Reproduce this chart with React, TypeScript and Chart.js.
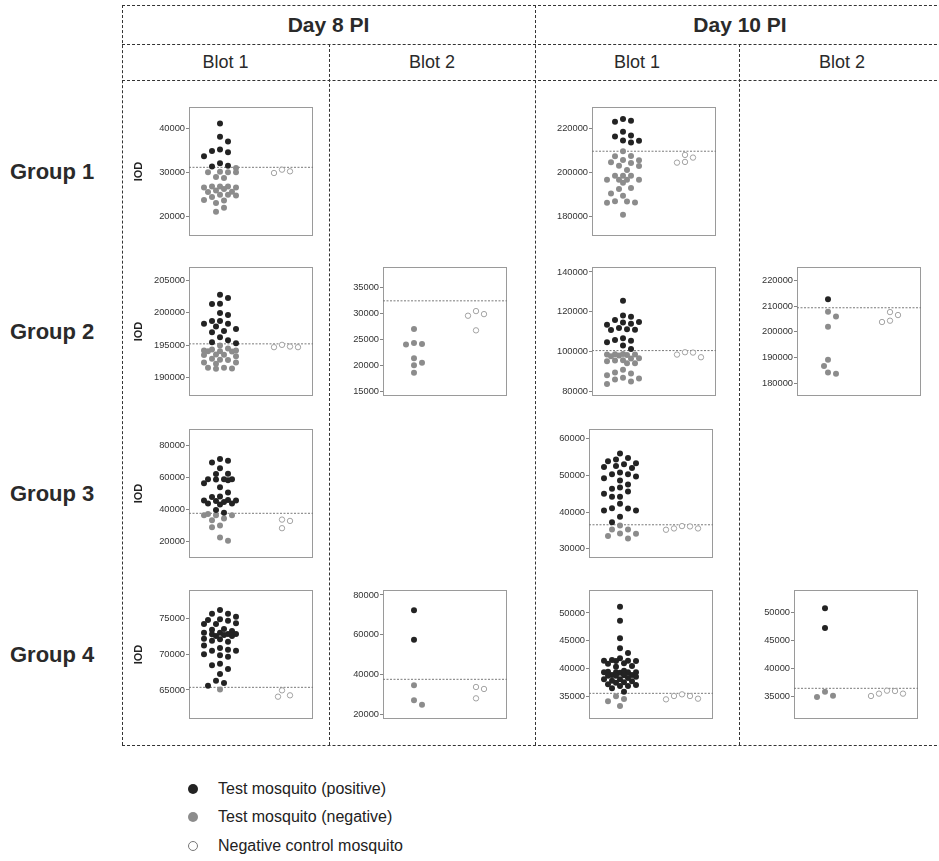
import React, { useEffect, useRef } from 'react';
import { Chart, registerables } from 'chart.js';
Chart.register(...registerables);

const FONT = "'Liberation Sans', Arial, Helvetica, sans-serif";

// ---------- Data (IOD values) ----------
// Group 1, Day 8 PI, Blot 1
const g1d8b1Pos = [41070, 38020, 36960, 34830, 34530, 35130, 33610, 32020, 31260, 31480];
const g1d8b1Neg = [29960, 29960, 30110, 30950, 29960, 28670, 28900, 26770, 26540, 26770, 26160, 26540, 26770, 25860, 25480, 25550, 24870, 24870, 24710, 24330, 23570, 23650, 22970, 21900, 20990];
const g1d8b1Ctrl = [30570, 29810, 30190];
const g1d8b1Cut = 31100;
const g1d8b1Range = [15500, 44800];
const g1d8b1Ticks = [20000, 30000, 40000];

// Group 1, Day 10 PI, Blot 1
const g1d10b1Pos = [223350, 222890, 224110, 216200, 218330, 214220, 213460, 214370, 216650];
const g1d10b1Neg = [209510, 205550, 205400, 207380, 207220, 204490, 202880, 202810, 204180, 200990, 198400, 198400, 198400, 196580, 195210, 196580, 196580, 196580, 192780, 192320, 190340, 189280, 186840, 186240, 186080, 186690, 180610];
const g1d10b1Ctrl = [206620, 207830, 204330, 204640];
const g1d10b1Cut = 209510;
const g1d10b1Range = [171000, 229600];
const g1d10b1Ticks = [180000, 200000, 220000];

// Group 2, Day 8 PI, Blot 1
const g2d8b1Pos = [202790, 202280, 201400, 201350, 199660, 199960, 198730, 198730, 198320, 198320, 197860, 197500, 196980, 197190, 196210, 195440, 195290, 195750];
const g2d8b1Neg = [194000, 194160, 194470, 194050, 194930, 194050, 194160, 194310, 193490, 193540, 193440, 193280, 192870, 192670, 192310, 192100, 192310, 192720, 191480, 191330, 191380, 191480];
const g2d8b1Ctrl = [194770, 194670, 194670, 195030];
const g2d8b1Cut = 195185;
const g2d8b1Range = [187100, 207100];
const g2d8b1Ticks = [190000, 195000, 200000, 205000];

// Group 2, Day 8 PI, Blot 2
const g2d8b2Pos: number[] = [];
const g2d8b2Neg = [27040, 24360, 24040, 24170, 21430, 20540, 20100, 18630];
const g2d8b2Ctrl = [29900, 29590, 30480, 26780];
const g2d8b2Cut = 32450;
const g2d8b2Range = [14170, 38950];
const g2d8b2Ticks = [15000, 20000, 25000, 30000, 35000];

// Group 2, Day 10 PI, Blot 1
const g2d10b1Pos = [125540, 117560, 114900, 114060, 115890, 114730, 118220, 111900, 111070, 110910, 111240, 113570, 106750, 105590, 105920, 104760, 103090, 101430];
const g2d10b1Neg = [98770, 98600, 98440, 98110, 98600, 98940, 97770, 95780, 95280, 96780, 94280, 96610, 94280, 95610, 90960, 89130, 88300, 89630, 86970, 86140, 83810, 85140, 86640];
const g2d10b1Ctrl = [99600, 97270, 98600, 99770];
const g2d10b1Cut = 100600;
const g2d10b1Range = [77840, 142490];
const g2d10b1Ticks = [80000, 100000, 120000, 140000];

// Group 2, Day 10 PI, Blot 2
const g2d10b2Pos = [212670];
const g2d10b2Neg = [207780, 205980, 202000, 189140, 186690, 183730, 184250];
const g2d10b2Ctrl = [206500, 207650, 203800, 204310];
const g2d10b2Cut = 209330;
const g2d10b2Range = [175100, 225140];
const g2d10b2Ticks = [180000, 190000, 200000, 210000, 220000];

// Group 3, Day 8 PI, Blot 1
const g3d8b1Pos = [71310, 69250, 70280, 65520, 62220, 62010, 58700, 58490, 58700, 56220, 58080, 58700, 53740, 50430, 47950, 47530, 45670, 45050, 45460, 43600, 42980, 44430, 43600, 45460, 39470, 37810];
const g3d8b1Neg = [36160, 36160, 36160, 36990, 34090, 33050, 29750, 28710, 22300, 20230];
const g3d8b1Ctrl = [28090, 33470, 32640];
const g3d8b1Cut = 37400;
const g3d8b1Range = [9450, 90130];
const g3d8b1Ticks = [20000, 40000, 60000, 80000];

// Group 3, Day 10 PI, Blot 1
const g3d10b1Pos = [54740, 53830, 55920, 52570, 52020, 53020, 53290, 52290, 54290, 50300, 49660, 50750, 50300, 48580, 49210, 47490, 46670, 46310, 44950, 45590, 44130, 44130, 42230, 40960, 40420, 41050, 40420, 38690, 37240];
const g3d10b1Neg = [36340, 35250, 35250, 34070, 34160, 33440, 32800];
const g3d10b1Ctrl = [36160, 35520, 35160, 35520, 36070];
const g3d10b1Cut = 36520;
const g3d10b1Range = [27460, 62630];
const g3d10b1Ticks = [30000, 40000, 50000, 60000];

// Group 4, Day 8 PI, Blot 1
const g4d8b1Pos = [76220, 75700, 75700, 75280, 74720, 74910, 74250, 74250, 74350, 74810, 73460, 73040, 73270, 73550, 72850, 72570, 73040, 72710, 72800, 72850, 72200, 72100, 72570, 71780, 71920, 71220, 70510, 70650, 70890, 70510, 69860, 69670, 70000, 68690, 68460, 67940, 67240, 66310, 65980, 65610];
const g4d8b1Neg = [65050];
const g4d8b1Ctrl = [64950, 64060, 64250];
const g4d8b1Cut = 65370;
const g4d8b1Range = [60930, 79020];
const g4d8b1Ticks = [65000, 70000, 75000];

// Group 4, Day 8 PI, Blot 2
const g4d8b2Pos = [72290, 57540];
const g4d8b2Neg = [34580, 27040, 24860];
const g4d8b2Ctrl = [33740, 32740, 28040];
const g4d8b2Cut = 37600;
const g4d8b2Range = [17650, 82510];
const g4d8b2Ticks = [20000, 40000, 60000, 80000];

// Group 4, Day 10 PI, Blot 1
const g4d10b1Pos = [51140, 48630, 45460, 43670, 42830, 41450, 40920, 41450, 41390, 41870, 41390, 40980, 41570, 40380, 40500, 38890, 39300, 39360, 39660, 39360, 39360, 39480, 39360, 38770, 38890, 38830, 38770, 38110, 38350, 38590, 38110, 37570, 37510, 37750, 37870, 37090, 36490, 36910, 37210, 36910, 35900];
const g4d10b1Neg = [35060, 34580, 34160, 33330];
const g4d10b1Ctrl = [35420, 35120, 34520, 34640, 35120];
const g4d10b1Cut = 35600;
const g4d10b1Range = [31000, 54120];
const g4d10b1Ticks = [35000, 40000, 45000, 50000];

// Group 4, Day 10 PI, Blot 2
const g4d10b2Pos = [50770, 47260];
const g4d10b2Neg = [35890, 34940, 35180];
const g4d10b2Ctrl = [36070, 35540, 35120, 35540, 36010];
const g4d10b2Cut = 36490;
const g4d10b2Range = [31010, 54050];
const g4d10b2Ticks = [35000, 40000, 45000, 50000];

const dayLabels = ['Day 8 PI', 'Day 10 PI'];
const blotLabels = ['Blot 1', 'Blot 2', 'Blot 1', 'Blot 2'];
const groupLabels = ['Group 1', 'Group 2', 'Group 3', 'Group 4'];
const legendLabels = ['Test mosquito (positive)', 'Test mosquito (negative)', 'Negative control mosquito'];

// ---------- Layout ----------
const PLOT_W = 124;
const PLOT_H = 129;
const AXW = 60;
const PADT = 10;
const PADR = 6;
const PADB = 10;

type PanelDef = {
  id: string; left: number; top: number;
  pos: number[]; neg: number[]; ctrl: number[];
  cut: number; range: number[]; ticks: number[]; iod: boolean;
};

const panels: PanelDef[] = [
  { id: 'a', left: 189, top: 107, pos: g1d8b1Pos, neg: g1d8b1Neg, ctrl: g1d8b1Ctrl, cut: g1d8b1Cut, range: g1d8b1Range, ticks: g1d8b1Ticks, iod: true },
  { id: 'b', left: 592, top: 107, pos: g1d10b1Pos, neg: g1d10b1Neg, ctrl: g1d10b1Ctrl, cut: g1d10b1Cut, range: g1d10b1Range, ticks: g1d10b1Ticks, iod: false },
  { id: 'c', left: 189, top: 267, pos: g2d8b1Pos, neg: g2d8b1Neg, ctrl: g2d8b1Ctrl, cut: g2d8b1Cut, range: g2d8b1Range, ticks: g2d8b1Ticks, iod: true },
  { id: 'd', left: 383, top: 267, pos: g2d8b2Pos, neg: g2d8b2Neg, ctrl: g2d8b2Ctrl, cut: g2d8b2Cut, range: g2d8b2Range, ticks: g2d8b2Ticks, iod: false },
  { id: 'e', left: 592, top: 267, pos: g2d10b1Pos, neg: g2d10b1Neg, ctrl: g2d10b1Ctrl, cut: g2d10b1Cut, range: g2d10b1Range, ticks: g2d10b1Ticks, iod: false },
  { id: 'f', left: 797, top: 267, pos: g2d10b2Pos, neg: g2d10b2Neg, ctrl: g2d10b2Ctrl, cut: g2d10b2Cut, range: g2d10b2Range, ticks: g2d10b2Ticks, iod: false },
  { id: 'g', left: 189, top: 429, pos: g3d8b1Pos, neg: g3d8b1Neg, ctrl: g3d8b1Ctrl, cut: g3d8b1Cut, range: g3d8b1Range, ticks: g3d8b1Ticks, iod: true },
  { id: 'h', left: 589, top: 429, pos: g3d10b1Pos, neg: g3d10b1Neg, ctrl: g3d10b1Ctrl, cut: g3d10b1Cut, range: g3d10b1Range, ticks: g3d10b1Ticks, iod: false },
  { id: 'i', left: 189, top: 590, pos: g4d8b1Pos, neg: g4d8b1Neg, ctrl: g4d8b1Ctrl, cut: g4d8b1Cut, range: g4d8b1Range, ticks: g4d8b1Ticks, iod: true },
  { id: 'j', left: 383, top: 590, pos: g4d8b2Pos, neg: g4d8b2Neg, ctrl: g4d8b2Ctrl, cut: g4d8b2Cut, range: g4d8b2Range, ticks: g4d8b2Ticks, iod: false },
  { id: 'k', left: 589, top: 590, pos: g4d10b1Pos, neg: g4d10b1Neg, ctrl: g4d10b1Ctrl, cut: g4d10b1Cut, range: g4d10b1Range, ticks: g4d10b1Ticks, iod: false },
  { id: 'l', left: 794, top: 590, pos: g4d10b2Pos, neg: g4d10b2Neg, ctrl: g4d10b2Ctrl, cut: g4d10b2Cut, range: g4d10b2Range, ticks: g4d10b2Ticks, iod: false },
];

// beeswarm: horizontal pixel offsets (slots of 4px, at most 4 slots each side)
function swarm(vals: number[], pxPerUnit: number): number[] {
  const STEP = 4;
  const D = 6.8;
  const MAXK = 4;
  const order = vals.map((_, i) => i).sort((a, b) => vals[b] - vals[a]);
  const placed: { x: number; y: number }[] = [];
  const out: number[] = new Array(vals.length).fill(0);
  let flip = 1;
  for (const i of order) {
    const y = vals[i] * pxPerUnit;
    let chosen: number | null = null;
    let best = 0;
    let bestD = -1;
    for (let k = 0; k <= MAXK && chosen === null; k++) {
      const cands = k === 0 ? [0] : [flip * k * STEP, -flip * k * STEP];
      for (const c of cands) {
        let md = Infinity;
        for (const p of placed) md = Math.min(md, Math.hypot(p.x - c, p.y - y));
        if (md >= D) {
          chosen = c;
          break;
        }
        if (md > bestD + 0.01) {
          bestD = md;
          best = c;
        }
      }
    }
    const x = chosen === null ? best : chosen;
    if (x !== 0) flip = -flip;
    placed.push({ x, y });
    out[i] = x;
  }
  return out;
}

const framePlugin = {
  id: 'frame',
  beforeDatasetsDraw(chart: any) {
    const { ctx, chartArea: a } = chart;
    ctx.save();
    ctx.strokeStyle = '#9a9a9a';
    ctx.lineWidth = 1;
    ctx.strokeRect(Math.round(a.left) + 0.5, Math.round(a.top) + 0.5, Math.round(a.right - a.left) - 1, Math.round(a.bottom - a.top) - 1);
    ctx.restore();
  },
};

function PanelChart({ p }: { p: PanelDef }) {
  const ref = useRef<HTMLCanvasElement>(null);
  useEffect(() => {
    if (!ref.current) return;
    const [min, max] = p.range;
    const pxPerUnit = PLOT_H / (max - min);
    const unitsPerPx = 2 / PLOT_W;
    const all = [...p.pos.map((v) => ({ v, g: 0 })), ...p.neg.map((v) => ({ v, g: 1 }))];
    const off = swarm(all.map((a) => a.v), pxPerUnit);
    const posData: { x: number; y: number }[] = [];
    const negData: { x: number; y: number }[] = [];
    all.forEach((a, i) => {
      (a.g === 0 ? posData : negData).push({ x: 1 + off[i] * unitsPerPx, y: a.v });
    });
    const coff = swarm(p.ctrl, pxPerUnit);
    const ctrlData = p.ctrl.map((v, i) => ({ x: 2 + coff[i] * unitsPerPx, y: v }));

    const chart = new Chart(ref.current, {
      type: 'scatter',
      data: {
        datasets: [
          {
            type: 'line',
            data: [{ x: 0.5, y: p.cut }, { x: 2.5, y: p.cut }],
            borderColor: '#7a7a7a',
            borderWidth: 1,
            borderDash: [2, 1.5],
            pointRadius: 0,
            order: 4,
          } as any,
          {
            data: ctrlData,
            pointRadius: 2.7,
            backgroundColor: '#ffffff',
            borderColor: '#9a9a9a',
            borderWidth: 0.9,
            order: 3,
          },
          {
            data: negData,
            pointRadius: 3,
            backgroundColor: '#8c8c8c',
            borderColor: '#8c8c8c',
            borderWidth: 0,
            order: 2,
          },
          {
            data: posData,
            pointRadius: 3,
            backgroundColor: '#232323',
            borderColor: '#232323',
            borderWidth: 0,
            order: 1,
          },
        ],
      },
      options: {
        animation: false,
        responsive: false,
        devicePixelRatio: 1,
        events: [],
        layout: { padding: { left: 0, top: PADT, right: PADR, bottom: PADB } },
        plugins: { legend: { display: false }, tooltip: { enabled: false } },
        scales: {
          x: { type: 'linear', min: 0.5, max: 2.5, display: false },
          y: {
            type: 'linear',
            min,
            max,
            afterBuildTicks: (s: any) => {
              s.ticks = p.ticks.map((v) => ({ value: v }));
            },
            afterFit: (s: any) => {
              s.width = AXW;
            },
            border: { display: false },
            grid: { drawOnChartArea: false, drawTicks: true, tickLength: 3, color: '#666', lineWidth: 0.8 },
            ticks: {
              padding: 1,
              color: '#333',
              font: { family: FONT, size: 9.3 },
              callback: (v: any) => String(v),
            },
            title: {
              display: p.iod,
              text: 'IOD',
              color: '#222',
              font: { family: FONT, size: 11, weight: 'bold' },
              padding: { top: 3.5, bottom: 0 },
            },
          },
        },
      },
      plugins: [framePlugin],
    } as any);
    return () => chart.destroy();
  }, [p]);
  const w = AXW + PLOT_W + PADR;
  const h = PADT + PLOT_H + PADB;
  return (
    <canvas
      ref={ref}
      width={w}
      height={h}
      style={{ position: 'absolute', left: p.left - AXW, top: p.top - PADT, width: w, height: h }}
    />
  );
}

const LINE = '1px dashed #333';

function HLine({ x, y, w }: { x: number; y: number; w: number }) {
  return <div style={{ position: 'absolute', left: x, top: y, width: w, height: 0, borderTop: LINE }} />;
}
function VLine({ x, y, h }: { x: number; y: number; h: number }) {
  return <div style={{ position: 'absolute', left: x, top: y, width: 0, height: h, borderLeft: LINE }} />;
}

function Cell({ x, y, w, h, text, bold, size }: { x: number; y: number; w: number; h: number; text: string; bold?: boolean; size: number }) {
  return (
    <div
      style={{
        position: 'absolute', left: x, top: y, width: w, height: h,
        display: 'flex', alignItems: 'center', justifyContent: 'center',
        fontWeight: bold ? 'bold' : 'normal', fontSize: size, color: '#2a2a2a', whiteSpace: 'nowrap',
      }}
    >
      {text}
    </div>
  );
}

export default function App() {
  const groupCenters = [172, 332, 494, 655];
  const legendRows = [789, 817, 846];
  return (
    <div style={{ position: 'absolute', left: 0, top: 0, width: 939, height: 861, overflow: 'hidden', background: '#fff', fontFamily: FONT }}>
      {/* table frame */}
      <HLine x={122} y={5} w={830} />
      <HLine x={122} y={44} w={830} />
      <HLine x={122} y={80} w={830} />
      <HLine x={122} y={745} w={830} />
      <VLine x={122} y={5} h={740} />
      <VLine x={535} y={5} h={740} />
      <VLine x={329} y={44} h={701} />
      <VLine x={739} y={44} h={701} />

      <Cell x={122} y={6} w={413} h={38} text={dayLabels[0]} bold size={21} />
      <Cell x={535} y={6} w={410} h={38} text={dayLabels[1]} bold size={21} />
      <Cell x={122} y={45} w={207} h={35} text={blotLabels[0]} size={18} />
      <Cell x={329} y={45} w={206} h={35} text={blotLabels[1]} size={18} />
      <Cell x={535} y={45} w={204} h={35} text={blotLabels[2]} size={18} />
      <Cell x={739} y={45} w={206} h={35} text={blotLabels[3]} size={18} />

      {groupLabels.map((g, i) => (
        <div
          key={g}
          style={{ position: 'absolute', left: 10, top: groupCenters[i] - 14, height: 28, lineHeight: '28px', fontSize: 22, fontWeight: 'bold', color: '#2a2a2a', whiteSpace: 'nowrap' }}
        >
          {g}
        </div>
      ))}

      {panels.map((p) => (
        <PanelChart key={p.id} p={p} />
      ))}

      {/* legend */}
      {legendLabels.map((t, i) => (
        <React.Fragment key={t}>
          <div
            style={{
              position: 'absolute', left: 188, top: legendRows[i] - 5, width: 10, height: 10, borderRadius: '50%', boxSizing: 'border-box',
              background: i === 0 ? '#232323' : i === 1 ? '#8c8c8c' : '#fff',
              border: i === 2 ? '1px solid #777' : 'none',
            }}
          />
          <div style={{ position: 'absolute', left: 218, top: legendRows[i] - 10, height: 20, lineHeight: '20px', fontSize: 16, color: '#222', whiteSpace: 'nowrap' }}>
            {t}
          </div>
        </React.Fragment>
      ))}
    </div>
  );
}
